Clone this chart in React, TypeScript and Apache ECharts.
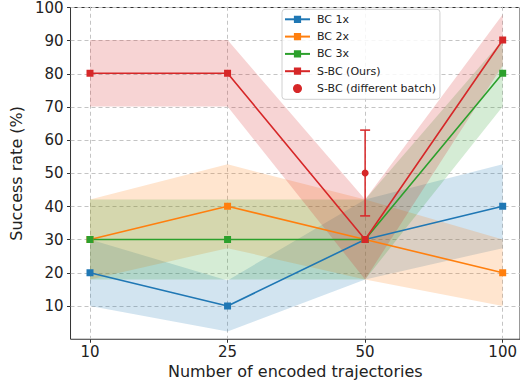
import React, { useEffect, useRef } from "react";
import * as echarts from "echarts";

const categories = ["10", "25", "50", "100"];
const yTicks = [10, 20, 30, 40, 50, 60, 70, 80, 90, 100];

const bc1Mean = [20, 10, 30, 40];
const bc1Low = [10, 2.3, 18, 27.4];
const bc1High = [30, 17.7, 42, 52.6];

const bc2Mean = [30, 40, 30, 20];
const bc2Low = [18, 27.4, 18, 10];
const bc2High = [42, 52.6, 42, 30];

const bc3Mean = [30, 30, 30, 80];
const bc3Low = [18, 18, 18, 70];
const bc3High = [42, 42, 42, 90];

const sbcMean = [80, 80, 30, 90];
const sbcLow = [70, 70, 18, 82.3];
const sbcHigh = [90, 90, 42, 97.7];

const diffBatchCategory = "50";
const diffBatchMean = 50;
const diffBatchLow = 37.1;
const diffBatchHigh = 62.9;

const FONT = "DejaVu Sans";

export default function App() {
  const ref = useRef<HTMLDivElement>(null);
  useEffect(() => {
    if (!ref.current) return;
    const chart = echarts.init(ref.current, null, { renderer: "svg" });

    const defs = [
      { name: "BC 1x", color: "#1f77b4", mean: bc1Mean, low: bc1Low, high: bc1High },
      { name: "BC 2x", color: "#ff7f0e", mean: bc2Mean, low: bc2Low, high: bc2High },
      { name: "BC 3x", color: "#2ca02c", mean: bc3Mean, low: bc3Low, high: bc3High },
      { name: "S-BC (Ours)", color: "#d62728", mean: sbcMean, low: sbcLow, high: sbcHigh },
    ];

    const series: any[] = [];
    defs.forEach((d, i) => {
      series.push({
        type: "line",
        xAxisIndex: 1,
        yAxisIndex: 1,
        stack: "band" + i,
        data: d.low,
        symbol: "none",
        lineStyle: { opacity: 0 },
        silent: true,
        z: 1,
      });
      series.push({
        type: "line",
        xAxisIndex: 1,
        yAxisIndex: 1,
        stack: "band" + i,
        data: d.high.map((h, k) => h - d.low[k]),
        symbol: "none",
        lineStyle: { opacity: 0 },
        areaStyle: { color: d.color, opacity: 0.2 },
        silent: true,
        z: 1,
      });
    });
    defs.forEach((d) => {
      series.push({
        name: d.name,
        type: "line",
        xAxisIndex: 1,
        yAxisIndex: 1,
        data: d.mean,
        symbol: "rect",
        symbolSize: 7,
        lineStyle: { color: d.color, width: 1.6 },
        itemStyle: { color: d.color },
        z: 3,
      });
    });
    const idx = categories.indexOf(diffBatchCategory);
    series.push({
      type: "custom",
      xAxisIndex: 1,
      yAxisIndex: 1,
      data: [[idx, diffBatchMean, diffBatchLow, diffBatchHigh]],
      renderItem: (params: any, api: any) => {
        const x = api.value(0);
        const top = api.coord([x, api.value(3)]);
        const bot = api.coord([x, api.value(2)]);
        const style = { stroke: "#d62728", lineWidth: 1.5 };
        return {
          type: "group",
          children: [
            { type: "line", shape: { x1: top[0], y1: top[1], x2: bot[0], y2: bot[1] }, style },
            { type: "line", shape: { x1: top[0] - 5, y1: top[1], x2: top[0] + 5, y2: top[1] }, style },
            { type: "line", shape: { x1: bot[0] - 5, y1: bot[1], x2: bot[0] + 5, y2: bot[1] }, style },
          ],
        };
      },
      z: 4,
      silent: true,
    });
    series.push({
      name: "S-BC (different batch)",
      type: "scatter",
      xAxisIndex: 1,
      yAxisIndex: 1,
      data: [[idx, diffBatchMean]],
      symbol: "circle",
      symbolSize: 7,
      itemStyle: { color: "#d62728", opacity: 1 },
      z: 5,
    });

    const labelStyle = { fontFamily: FONT, fontSize: 15, color: "#222" };
    const gridTop = 6.75;
    const gridHeight = 332.5;

    chart.setOption({
      animation: false,
      backgroundColor: "#ffffff",
      textStyle: { fontFamily: FONT },
      legend: {
        orient: "vertical",
        left: 282,
        top: 9.3,
        padding: [3.5, 4, 4.3, 2],
        itemWidth: 25,
        itemHeight: 9,
        itemGap: 4.3,
        backgroundColor: "rgba(255,255,255,0.85)",
        borderColor: "#d0d0d0",
        borderWidth: 1,
        borderRadius: 3,
        textStyle: { fontFamily: FONT, fontSize: 11, color: "#222", lineHeight: 13, padding: [0, 0, 0, 2] },
        data: [
          { name: "BC 1x" },
          { name: "BC 2x" },
          { name: "BC 3x" },
          { name: "S-BC (Ours)" },
          { name: "S-BC (different batch)", icon: "circle", itemStyle: { opacity: 1 } },
        ],
      },
      grid: [
        {
          left: 69.3,
          top: gridTop,
          width: 455.4,
          height: gridHeight,
          show: true,
          borderColor: "#333",
          borderWidth: 1,
          backgroundColor: "transparent",
        },
        { left: 90, top: gridTop, width: 414, height: gridHeight },
      ],
      xAxis: [
        {
          gridIndex: 0,
          type: "value",
          min: 0,
          max: 1,
          axisLine: { show: false },
          axisTick: { show: false },
          axisLabel: { show: false },
          splitLine: { show: false },
          name: "Number of encoded trajectories",
          nameLocation: "middle",
          nameGap: 24,
          nameTextStyle: { fontFamily: FONT, fontSize: 16, color: "#222" },
        },
        {
          gridIndex: 1,
          type: "category",
          data: categories,
          boundaryGap: false,
          axisLine: { show: false },
          axisTick: { show: true, length: 3.5, lineStyle: { color: "#333" } },
          axisLabel: { ...labelStyle, margin: 5 },
          splitLine: { show: true, lineStyle: { color: "#c4c4c4", type: [4, 3], width: 1 } },
        },
      ],
      yAxis: [
        {
          gridIndex: 0,
          type: "value",
          min: 0,
          max: 100,
          interval: 10,
          axisLine: { show: false },
          axisTick: { show: true, length: 3.5, lineStyle: { color: "#333" }, customValues: yTicks },
          axisLabel: { ...labelStyle, margin: 7, customValues: yTicks },
          splitLine: { show: true, lineStyle: { color: "#c4c4c4", type: [4, 3], width: 1 } },
          name: "Success rate (%)",
          nameLocation: "middle",
          nameRotate: 90,
          nameGap: 43,
          nameTextStyle: { fontFamily: FONT, fontSize: 16, color: "#222" },
        },
        { gridIndex: 1, type: "value", min: 0, max: 100, show: false },
      ],
      series,
    });
    return () => chart.dispose();
  }, []);
  return <div ref={ref} style={{ position: "absolute", left: 0, top: 0, width: 520, height: 387 }} />;
}
